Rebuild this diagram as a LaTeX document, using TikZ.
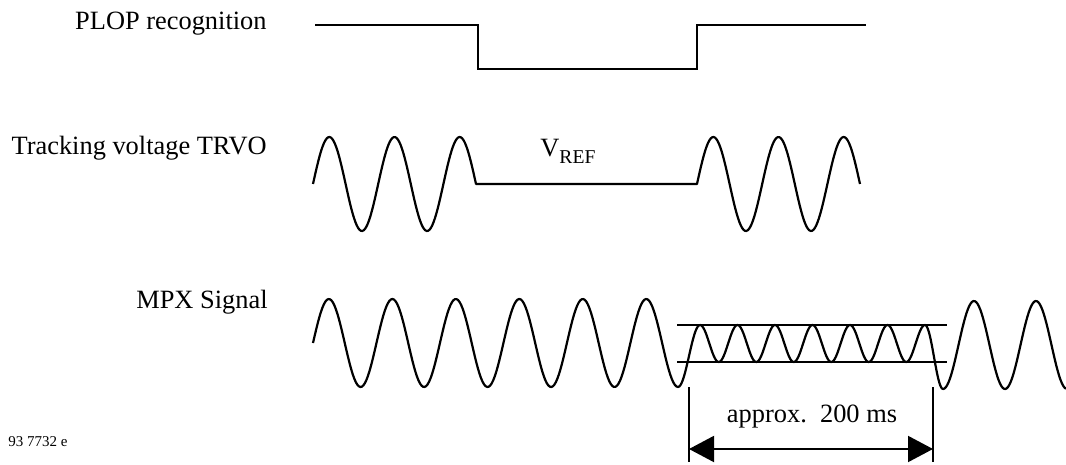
\documentclass[tikz,border=0pt]{standalone}
\usepackage{fontspec}
\setmainfont{Liberation Serif}
\usepackage{tikz}
\usetikzlibrary{arrows.meta}
\tikzstyle{sigwave} = [line width=1.1pt,line join=round]
\tikzstyle{siglabel} = [font=\fontsize{13.2}{15}\selectfont,inner sep=0pt]
\tikzstyle{dimarrow} = [line width=1pt,{Triangle[length=12.5pt,width=13pt]}-{Triangle[length=12.5pt,width=13pt]}]

\begin{document}
\begin{tikzpicture}[x=0.5pt,y=-0.5pt]
	\useasboundingbox (0,0) rectangle (1066,465);
	
	% Signal names:
	\node[siglabel,anchor=base east] (plop) at (267,30) {PLOP recognition};
	\node[siglabel,anchor=base east] (trvo) at (267,155) {Tracking voltage TRVO};
	\node[siglabel,anchor=base east] (mpx) at (268,308) {MPX Signal};
	\node[siglabel,anchor=base west] (vref) at (540,156) {V\raisebox{-0.3em}{\fontsize{9.8}{10}\selectfont REF}};
	\node[font=\fontsize{7.5}{9}\selectfont,inner sep=0pt,anchor=base west] (code) at (8,446) {93 7732 e};
	
	% PLOP recognition:
	\draw[line width=1pt] (315,25) -- (478,25) -- (478,69) -- (697,69) -- (697,25) -- (866,25);
	
	% Tracking voltage, flat at V_REF in the middle:
	\draw[sigwave] plot[domain=313:476,samples=120] (\x,{184-47*sin((\x-313)/65.2*360)})
		-- (697,184)
		-- plot[domain=697:860,samples=120] (\x,{184-47*sin((\x-697)/65.2*360)});
	
	% MPX signal, small swing during the gap:
	\draw[sigwave] plot[domain=313:678,samples=240] (\x,{343-44*sin((\x-313)/63.48*360)})
		-- plot[domain=678:700,samples=20] (\x,{356+31*cos((\x-678)/22*180)})
		-- plot[domain=700:925,samples=200] (\x,{343.5-18.5*cos((\x-700)/37.5*360)})
		-- plot[domain=925:943,samples=20] (\x,{357-32*cos((\x-925)/18*180)})
		-- plot[domain=943:1066,samples=90] (\x,{345+44*cos((\x-943)/62*360)});
	
	% Band round the small swing:
	\draw[line width=1pt] (677,325) -- (947,325);
	\draw[line width=1pt] (677,362) -- (947,362);
	
	% Duration:
	\coordinate (dimL) at (689,449);
	\coordinate (dimR) at (933,449);
	\draw[line width=1pt] (689,387) -- (689,462);
	\draw[line width=1pt] (933,387) -- (933,462);
	\draw[dimarrow] (dimL) -- (dimR);
	\node[siglabel,anchor=base] (approx) at (812,422) {approx.\ \ 200 ms};
	
\end{tikzpicture}
\end{document}
